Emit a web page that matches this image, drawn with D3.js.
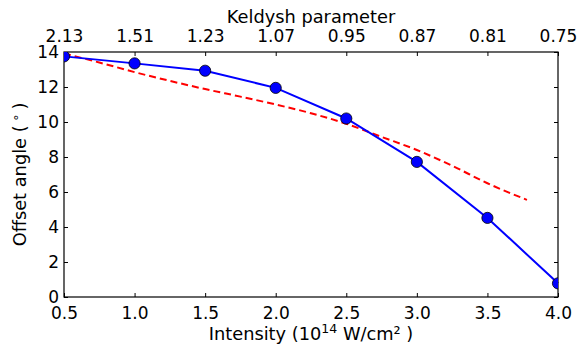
<!DOCTYPE html>
<html><head><meta charset="utf-8">
<script src="https://cdn.jsdelivr.net/npm/d3@7"></script>
<style>body{margin:0;background:#fff}text{font-family:"DejaVu Sans",sans-serif;fill:#000}</style>
</head><body><svg id="c" width="579" height="352"></svg>
<script>
const intensity = [0.5, 1.0, 1.5, 2.0, 2.5, 3.0, 3.5, 4.0];
const offsetAngle = [13.75, 13.35, 12.93, 11.95, 10.2, 7.72, 4.52, 0.78];
const theoryX = [0.5, 0.75, 1.0, 1.25, 1.5, 1.75, 2.0, 2.25, 2.5, 2.75, 3.0, 3.25, 3.5, 3.78];
const theoryY = [13.92, 13.4, 12.85, 12.35, 11.88, 11.45, 11.0, 10.5, 9.9, 9.15, 8.4, 7.5, 6.5, 5.55];
const keldyshTicks = [2.13, 1.51, 1.23, 1.07, 0.95, 0.87, 0.81, 0.75];
const yTicks = [0, 2, 4, 6, 8, 10, 12, 14];

const W = 579, H = 352, m = {l: 64, r: 21, t: 52, b: 55};
const svg = d3.select("#c");
const x = d3.scaleLinear().domain([0.5, 4.0]).range([m.l, W - m.r]);
const y = d3.scaleLinear().domain([0, 14]).range([H - m.b, m.t]);

function style(g) {
  g.select(".domain").remove();
  g.selectAll("line").attr("stroke", "#000").attr("stroke-width", 1);
  g.selectAll("text").style("font-size", "17px").style("font-family", "DejaVu Sans");
}
const xb = svg.append("g").attr("transform", `translate(0,${H - m.b})`)
  .call(d3.axisBottom(x).tickValues(intensity).tickFormat(d3.format(".1f")).tickSizeInner(-4).tickPadding(9.5));
style(xb);
const xt = svg.append("g").attr("transform", `translate(0,${m.t})`)
  .call(d3.axisTop(x).tickValues(intensity).tickFormat((d, i) => keldyshTicks[i].toFixed(2)).tickSizeInner(-4).tickPadding(10));
style(xt);
const yl = svg.append("g").attr("transform", `translate(${m.l},0)`)
  .call(d3.axisLeft(y).tickValues(yTicks).tickSizeInner(-4).tickPadding(5));
style(yl);
const yr = svg.append("g").attr("transform", `translate(${W - m.r},0)`)
  .call(d3.axisRight(y).tickValues(yTicks).tickSizeInner(-4).tickFormat(""));
style(yr);

const theory = theoryX.map((d, i) => [d, theoryY[i]]);
svg.append("path").datum(theory)
  .attr("d", d3.line().x(d => x(d[0])).y(d => y(d[1])).curve(d3.curveMonotoneX))
  .attr("fill", "none").attr("stroke", "#ff0000").attr("stroke-width", 2).attr("stroke-dasharray", "7,4");

const meas = intensity.map((d, i) => [d, offsetAngle[i]]);
svg.append("path").datum(meas)
  .attr("d", d3.line().x(d => x(d[0])).y(d => y(d[1])))
  .attr("fill", "none").attr("stroke", "#0000ff").attr("stroke-width", 2);

svg.append("rect").attr("x", m.l).attr("y", m.t).attr("width", W - m.l - m.r).attr("height", H - m.t - m.b)
  .attr("fill", "none").attr("stroke", "#000").attr("stroke-width", 1.2);

svg.append("clipPath").attr("id", "clip").append("rect")
  .attr("x", m.l).attr("y", m.t).attr("width", W - m.l - m.r).attr("height", H - m.t - m.b);
svg.append("g").attr("clip-path", "url(#clip)").selectAll("circle").data(meas).join("circle")
  .attr("cx", d => x(d[0])).attr("cy", d => y(d[1])).attr("r", 5.6)
  .attr("fill", "#0000ff").attr("stroke", "#000").attr("stroke-width", 0.8);

svg.append("text").attr("x", (m.l + W - m.r) / 2).attr("y", 22.5).attr("text-anchor", "middle")
  .style("font-size", "17.8px").text("Keldysh parameter");
const xl = svg.append("text").attr("x", (m.l + W - m.r) / 2).attr("y", 339.5).attr("text-anchor", "middle").style("font-size", "17.8px");
xl.append("tspan").text("Intensity (10");
xl.append("tspan").attr("dy", -7).style("font-size", "12.5px").text("14");
xl.append("tspan").attr("dy", 7).text(" W/cm² )");
const ylab = svg.append("text").attr("transform", `translate(26,${(m.t + H - m.b) / 2}) rotate(-90)`)
  .attr("text-anchor", "middle").style("font-size", "17.8px");
ylab.append("tspan").text("Offset angle (");
ylab.append("tspan").attr("dy", -6).style("font-size", "12.5px").text(" ∘ ");
ylab.append("tspan").attr("dy", 6).text(")");
</script></body></html>
